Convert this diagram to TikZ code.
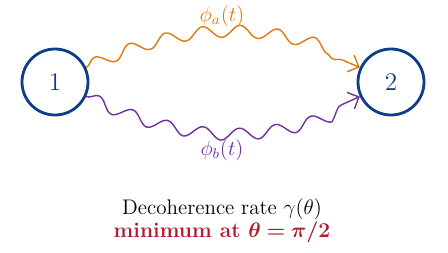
\documentclass[tikz,border=0pt]{standalone}
\usepackage{amsmath, amssymb}
\usepackage{bm}
\usetikzlibrary{arrows.meta, decorations.pathmorphing}

\definecolor{siteblue}{RGB}{14,62,138}
\definecolor{patha}{RGB}{224,122,10}
\definecolor{pathb}{RGB}{112,48,160}
\definecolor{minred}{RGB}{176,28,46}

\begin{document}
\begin{tikzpicture}[
    site/.style={circle, draw=siteblue, line width=1.6pt, minimum size=1.32cm, text=siteblue, font=\Large},
    wave/.style={decorate, decoration={snake, amplitude=1.2mm, segment length=7.4mm, post length=2.5mm}, line width=0.8pt, -{Straight Barb[length=1.8mm]}}
  ]
      \useasboundingbox (0,0) rectangle (8.96,5.04);
      \node[site] (s1) at (1.10,3.40) {$1$};
      \node[site] (s2) at (7.82,3.40) {$2$};
      % two paths between the sites
      \draw[wave, patha] (s1.25) to[bend left=24] (s2.155);
      \draw[wave, pathb] (s1.-25) to[bend right=25] (s2.-155);
      \node[text=patha, font=\large] (la) at (4.44,4.72) {$\phi_a(t)$};
      \node[text=pathb, font=\large] (lb) at (4.44,2.04) {$\phi_b(t)$};
      \node[font=\large] (rate) at (4.44,0.86) {Decoherence rate $\gamma(\theta)$};
      \node[text=minred, font=\large\bfseries] (minimum) at (4.44,0.40) {minimum at $\bm{\theta=\pi/2}$};
    \end{tikzpicture}
\end{document}
